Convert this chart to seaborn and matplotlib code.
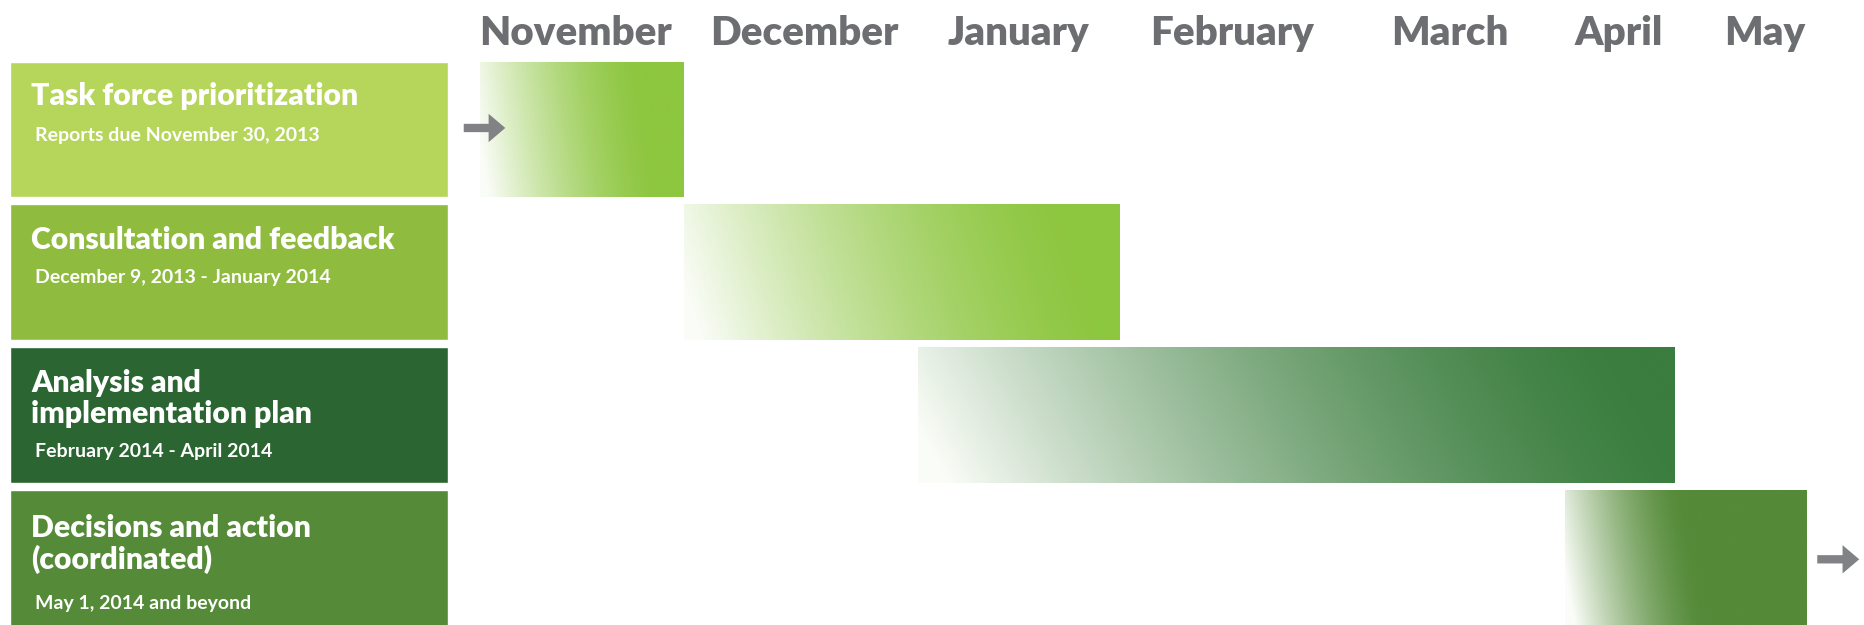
import numpy as np
import matplotlib
matplotlib.use("Agg")
import matplotlib.pyplot as plt
import seaborn as sns

# Phases (rows, top to bottom)
phase_titles = [
    "Task force prioritization",
    "Consultation and feedback",
    "Analysis and\nimplementation plan",
    "Decisions and action\n(coordinated)",
]
phase_dates = [
    "Reports due November 30, 2013",
    "December 9, 2013 - January 2014",
    "February 2014 - April 2014",
    "May 1, 2014 and beyond",
]
# bar extents in months since Nov 1, 2013 (schematic)
bar_start = [0.02, 1.05, 2.23, 5.50]
bar_end = [1.05, 3.25, 6.05, 6.72]

months = ["November", "December", "January", "February", "March", "April", "May"]
month_pos = [0.50, 1.66, 2.74, 3.82, 4.92, 5.77, 6.51]

box_colors = ["#b6d55b", "#8fbb3e", "#2b6632", "#548a38"]
bar_colors = ["#8dc63f", "#8dc63f", "#3a7d3e", "#548a38"]
fade = [0.85, 0.95, 1.0, 0.55]

sns.set_theme(style="white")
plt.rcParams["font.family"] = ["Lato", "DejaVu Sans"]

W, H = 1864, 625
fig = plt.figure(figsize=(W / 100, H / 100), dpi=100)
fig.patch.set_facecolor("white")

top_frac = 575 / H
ax = fig.add_axes([455 / W, 0, (W - 455) / W, top_frac])
ax_lab = fig.add_axes([10 / W, 0, 438 / W, top_frac])

rows = np.arange(len(phase_titles))
ylim = (3.47, -0.556)

# left label boxes
sns.barplot(x=[1] * len(rows), y=phase_titles, hue=phase_titles, palette=box_colors,
            orient="h", width=0.95, legend=False, ax=ax_lab, saturation=1)
ax_lab.set_xlim(0, 1)
ax_lab.set_ylim(*ylim)
ax_lab.axis("off")

title_dy = [-0.235, -0.225, -0.115, -0.095]
sub_dy = [0.045, 0.04, 0.255, 0.32]
for i in rows:
    ax_lab.text(0.048, i + title_dy[i], phase_titles[i], color="white", fontsize=21.7,
                fontweight="heavy", va="center", ha="left", linespacing=1.12)
    ax_lab.text(0.057, i + sub_dy[i], phase_dates[i], color="white", fontsize=14,
                fontweight="bold", va="center", ha="left")

# gantt bars with white-to-colour gradient
widths = [e - s for s, e in zip(bar_start, bar_end)]
bars = ax.barh(rows, widths, left=bar_start, height=0.95, color=bar_colors, zorder=1)
xs = np.linspace(0, 1, 300)
ys = np.linspace(0, 1, 60)
XX, YY = np.meshgrid(xs, ys)  # YY = 0 at top row of image
for i, b in enumerate(bars):
    u = np.clip((XX + 0.06 - 0.1 * YY) / fade[i], 0, 1)
    t = 1 - (1 - u) ** 1.5
    c = np.array(matplotlib.colors.to_rgb(bar_colors[i]))
    img = (1 - t)[..., None] * np.array([0.98, 0.99, 0.97]) + t[..., None] * c
    l, r = bar_start[i], bar_end[i]
    im = ax.imshow(img, extent=(l, r, i + 0.475, i - 0.475), origin="upper",
                   aspect="auto", interpolation="bilinear", zorder=2)
    im.set_clip_path(b)

# arrows
arrow_kw = dict(arrowstyle="simple,head_width=1.7,head_length=1.0,tail_width=0.5",
                color="#808285", lw=0)
ax.annotate("", xy=(0.162, -0.01), xytext=(-0.076, -0.01), arrowprops=arrow_kw, zorder=3)
ax.annotate("", xy=(7.0, 3.01), xytext=(6.76, 3.01), arrowprops=arrow_kw, zorder=3)

ax.set_xlim((455 - 476) / 198, (W - 476) / 198)
ax.set_ylim(*ylim)
ax.xaxis.tick_top()
ax.set_xticks(month_pos)
ax.set_xticklabels(months, fontsize=29, fontweight="heavy", color="#6d6e71")
ax.tick_params(axis="x", length=0, pad=-1.5)
ax.set_yticks([])
for s in ax.spines.values():
    s.set_visible(False)

fig.savefig("out.png", dpi=100, facecolor="white")
